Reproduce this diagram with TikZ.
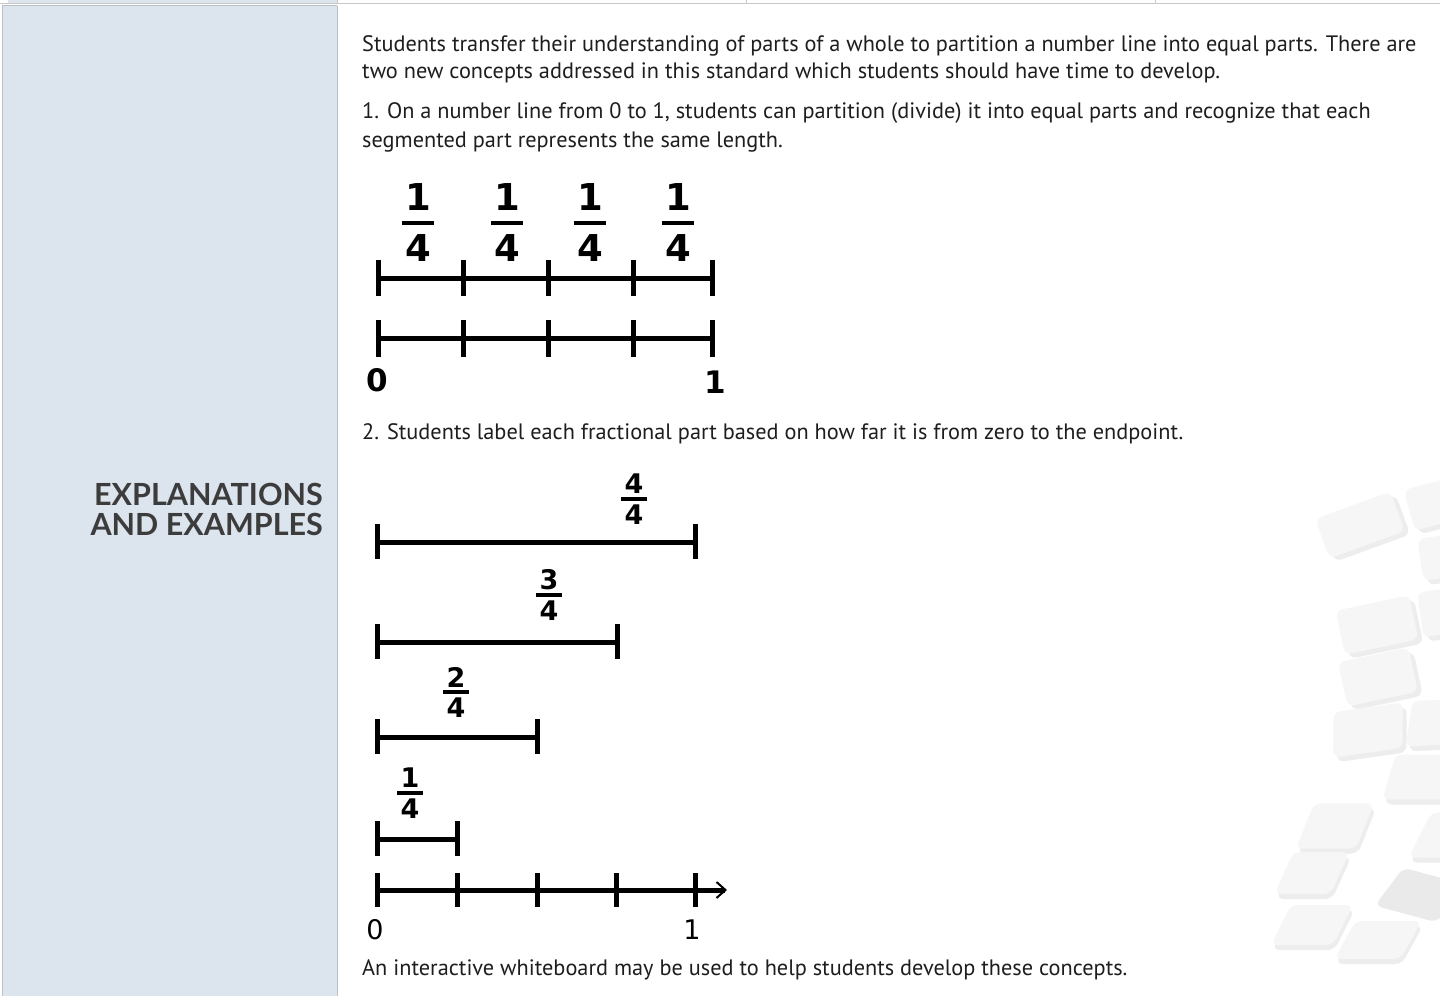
\documentclass[tikz,border=0pt]{standalone}
\usepackage{fontspec}
\setmainfont{PT Sans}
\newfontfamily\headfont{Lato}
\newfontfamily\numfont{DejaVu Sans}
\usetikzlibrary{arrows.meta}
\definecolor{panel}{HTML}{DCE4EE}
\definecolor{panelline}{HTML}{B9C0C8}
\definecolor{rule}{HTML}{C8C8C8}
\definecolor{headcol}{HTML}{3C3C3C}
\definecolor{bodycol}{HTML}{1E1E1E}
\definecolor{wmfill}{HTML}{F6F6F6}
\definecolor{wmshade}{HTML}{EDEDED}
\definecolor{wmdark}{HTML}{EAEAEA}
\tikzset{
  bodytext/.style={anchor=base west, inner sep=0pt, text=bodycol, font=\fontsize{22.3}{26}\selectfont},
  headtext/.style={anchor=base east, inner sep=0pt, text=headcol, font=\headfont\bfseries\fontsize{30.5}{34}\selectfont},
  nline/.style={line width=5pt},
  tk/.style={line width=5pt},
  bigdig/.style={inner sep=0pt, font=\numfont\bfseries\fontsize{37}{40}\selectfont},
  smalldig/.style={inner sep=0pt, font=\numfont\bfseries\fontsize{27}{30}\selectfont},
  endlab/.style={inner sep=0pt, font=\numfont\bfseries\fontsize{31}{34}\selectfont},
  endlabsmall/.style={inner sep=0pt, font=\numfont\fontsize{27}{30}\selectfont},
  fbar/.style={line width=4pt},
  fbarsmall/.style={line width=3.5pt},
  wm/.style={fill=wmfill, rounded corners=7pt},
  wmsh/.style={fill=wmshade, rounded corners=7pt},
}
\begin{document}
\begin{tikzpicture}[x=1pt,y=-1pt]
\useasboundingbox (0,0) rectangle (1440,996);
\fill[white] (0,0) rectangle (1440,996);

% watermark
\foreach \cx/\cy/\w/\h/\a/\s in {1360/525/80/42/20/0, 1448/500/80/42/15/0, 1455/555/70/42/8/0, 1455/610/70/45/8/0,
  1377/625/75/45/12/0, 1378/677/72/45/12/0, 1368/730/70/45/8/0.15, 1445/722/72/45/3/0.2, 1420/777/62/45/0/0.3,
  1335/826/60/45/0/0.4, 1312/873/56/42/0/0.45, 1312/925/62/40/0/0.5, 1378/940/66/38/0/0.55, 1445/835/50/45/0/0.5}{
  \begin{scope}[shift={(\cx,\cy)}, rotate=\a, xslant=\s]
    \fill[wmsh] (-\w/2+4,-\h/2+5) rectangle (\w/2+4,\h/2+5);
    \fill[wm] (-\w/2,-\h/2) rectangle (\w/2,\h/2);
  \end{scope}
}
\begin{scope}[shift={(1420,895)}, rotate=-15, xslant=0.4]
  \fill[wmdark, rounded corners=7pt] (-32,-22) rectangle (32,22);
\end{scope}

% previous row remnants
\fill[panel] (8,0) rectangle (337,3);
\foreach \xx in {337,746,1155} \draw[rule, line width=1pt] (\xx,0) -- (\xx,3);
\draw[rule, line width=1.5pt] (0,3.5) -- (1440,3.5);

% left panel
\fill[panel] (2,5.5) rectangle (337,996);
\draw[panelline, line width=1pt] (2,5.5) -- (2,996);
\draw[panelline, line width=1pt] (337,5.5) -- (337,996);
\draw[panelline, line width=0.8pt] (2,5.5) -- (337,5.5);

\node[headtext] (h1) at (323,505) {EXPLANATIONS};
\node[headtext] (h2) at (323,535) {AND EXAMPLES};

% body text
\node[bodytext] (t1) at (362,51) {Students transfer their understanding of parts of a whole to partition a number line into equal parts. There are};
\node[bodytext] (t2) at (362,78) {two new concepts addressed in this standard which students should have time to develop.};
\node[bodytext] (t3) at (362,118) {1. On a number line from 0 to 1, students can partition (divide) it into equal parts and recognize that each};
\node[bodytext] (t4) at (362,147) {segmented part represents the same length.};
\node[bodytext] (t5) at (362,439) {2. Students label each fractional part based on how far it is from zero to the endpoint.};
\node[bodytext] (t6) at (362,975) {An interactive whiteboard may be used to help students develop these concepts.};

% figure 1
\foreach \i/\xx in {0/378,1/463,2/548,3/633,4/712}{
  \coordinate (a\i) at (\xx,278);
  \coordinate (b\i) at (\xx,338);
}
\draw[nline] (a0) -- (a4);
\draw[nline] (b0) -- (b4);
\foreach \i in {0,...,4}{
  \draw[tk] (a\i) ++(0,-18) -- ++(0,36);
  \draw[tk] (b\i) ++(0,-18) -- ++(0,37);
}
\foreach \i/\xx in {1/418,2/507,3/590,4/678}{
  \node[bigdig] (fn\i) at (\xx,197) {1};
  \coordinate (fl\i) at (\xx-16,223);
  \coordinate (fr\i) at (\xx+16,223);
  \draw[fbar] (fl\i) -- (fr\i);
  \node[bigdig] (fd\i) at (\xx,248) {4};
}
\node[endlab] (z1) at (377,380) {0};
\node[endlab] (o1) at (715,382) {1};

% figure 2
\foreach \n/\xr/\yy/\fx/\fb in {4/695/542/634/499, 3/617/642/549/595, 2/537/737/456/692, 1/457/839/410/793}{
  \coordinate (sl\n) at (377,\yy);
  \coordinate (sr\n) at (\xr,\yy);
  \draw[nline] (sl\n) -- (sr\n);
  \draw[tk] (sl\n) ++(0,-18) -- ++(0,35);
  \draw[tk] (sr\n) ++(0,-18) -- ++(0,35);
  \node[smalldig] (gn\n) at (\fx,\fb-15) {\n};
  \coordinate (gl\n) at (\fx-13,\fb);
  \coordinate (gr\n) at (\fx+13,\fb);
  \draw[fbarsmall] (gl\n) -- (gr\n);
  \node[smalldig] (gd\n) at (\fx,\fb+16) {4};
}
\foreach \i/\xx in {0/377,1/457,2/537,3/616,4/695}{
  \coordinate (c\i) at (\xx,890);
}
\coordinate (cend) at (727,890);
\draw[nline, -{Straight Barb[length=9pt,width=16pt,line width=2pt]}] (c0) -- (cend);
\foreach \i in {0,...,4}{
  \draw[tk] (c\i) ++(0,-17) -- ++(0,34);
}
\node[endlabsmall] (z2) at (375,930) {0};
\node[endlabsmall] (o2) at (692,930) {1};
\end{tikzpicture}
\end{document}
